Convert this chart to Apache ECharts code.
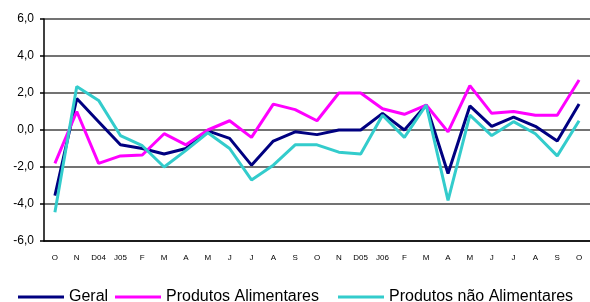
<!DOCTYPE html>
<html>
<head>
<meta charset="utf-8">
<style>
  html, body { margin: 0; padding: 0; background: #fff; }
  #chart { width: 590px; height: 302px; }
</style>
<script src="https://cdn.jsdelivr.net/npm/echarts@6/dist/echarts.min.js"></script>
</head>
<body>
<div id="chart"></div>
<script>
let months = ['O', 'N', 'D04', 'J05', 'F', 'M', 'A', 'M', 'J', 'J', 'A', 'S', 'O',
  'N', 'D05', 'J06', 'F', 'M', 'A', 'M', 'J', 'J', 'A', 'S', 'O']

let geral = [-3.55, 1.7, 0.45, -0.8, -1.0, -1.3, -1.0, -0.05, -0.45, -1.9, -0.6, -0.1, -0.25,
  0.0, 0.0, 0.9, 0.0, 1.35, -2.35, 1.3, 0.2, 0.7, 0.2, -0.6, 1.4]

let alimentares = [-1.8, 1.0, -1.8, -1.4, -1.35, -0.2, -0.8, 0.0, 0.5, -0.4, 1.4, 1.1, 0.5,
  2.0, 2.0, 1.15, 0.85, 1.35, -0.1, 2.4, 0.9, 1.0, 0.8, 0.8, 2.7]

let naoAlimentares = [-4.45, 2.35, 1.6, -0.3, -0.85, -2.0, -1.1, -0.15, -1.0, -2.7, -1.9, -0.8, -0.8,
  -1.2, -1.3, 0.8, -0.4, 1.35, -3.8, 0.8, -0.3, 0.45, -0.2, -1.4, 0.5]

let names = ['Geral', 'Produtos Alimentares', 'Produtos não Alimentares']
let colors = ['#000080', '#ff00ff', '#33cccc']
let legendLeft = [18, 115, 338]

let font = 'Arial, "Liberation Sans", sans-serif'
let chart = echarts.init(document.getElementById('chart'))

let option = {
  animation: false,
  grid: {
    left: 44,
    top: 19,
    width: 554,
    height: 222
  },
  // one legend per item so each can sit where it does in the original
  legend: names.map((name, i) => ({
    data: [name],
    left: legendLeft[i],
    top: 289,
    icon: 'rect',
    itemWidth: 46,
    itemHeight: 3,
    itemGap: 0,
    padding: 0,
    textStyle: { fontFamily: font, fontSize: 16, color: '#000' }
  })),
  xAxis: {
    type: 'category',
    data: months,
    boundaryGap: true,
    axisLine: { onZero: false, lineStyle: { color: '#000', width: 1.5 } },
    axisTick: { length: 4, lineStyle: { color: '#000', width: 1.5 } },
    axisLabel: { interval: 0, margin: 13, fontFamily: font, fontSize: 8, color: '#000' },
    splitLine: { show: false }
  },
  yAxis: {
    type: 'value',
    min: -6,
    max: 6,
    interval: 2,
    axisLine: { show: true, lineStyle: { color: '#000', width: 1.5 } },
    axisTick: { show: true, length: 4, lineStyle: { color: '#000', width: 1.5 } },
    axisLabel: {
      margin: 10,
      fontFamily: font,
      fontSize: 12,
      color: '#000',
      formatter: v => v.toFixed(1).replace('.', ',')
    },
    splitLine: { lineStyle: { color: '#444', width: 1.5 } }
  },
  series: [geral, alimentares, naoAlimentares].map((data, i) => ({
    name: names[i],
    type: 'line',
    data: data,
    showSymbol: false,
    symbol: 'none',
    itemStyle: { color: colors[i] },
    lineStyle: { color: colors[i], width: 3 }
  }))
}

chart.setOption(option)
</script>
</body>
</html>
